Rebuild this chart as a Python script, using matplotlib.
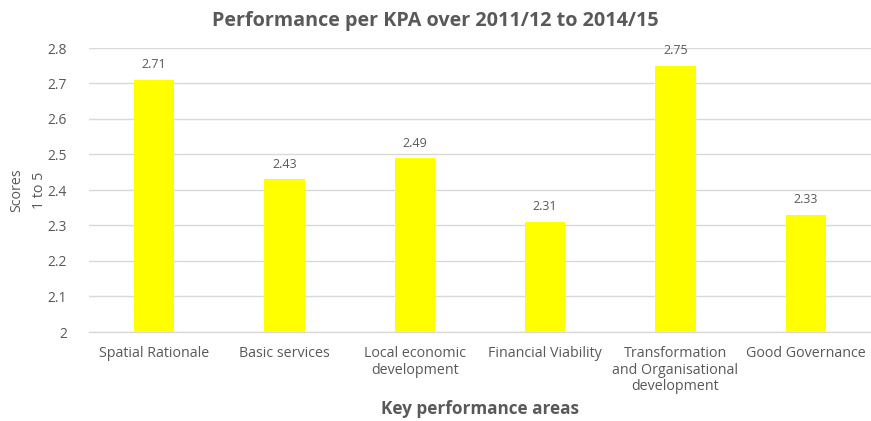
import matplotlib
matplotlib.use("Agg")
import matplotlib.pyplot as plt

categories = [
    "Spatial Rationale",
    "Basic services",
    "Local economic\ndevelopment",
    "Financial Viability",
    "Transformation\nand Organisational\ndevelopment",
    "Good Governance",
]
scores = [2.71, 2.43, 2.49, 2.31, 2.75, 2.33]
y_ticks = [2.0, 2.1, 2.2, 2.3, 2.4, 2.5, 2.6, 2.7, 2.8]
y_tick_labels = ["2", "2.1", "2.2", "2.3", "2.4", "2.5", "2.6", "2.7", "2.8"]

plt.rcParams["font.family"] = ["Open Sans", "DejaVu Sans"]
text_col = "#595959"
grid_col = "#D9D9D9"

fig = plt.figure(figsize=(8.71, 4.21), dpi=100)
ax = fig.add_axes([89 / 871, 1 - 332 / 421, 1 - 89 / 871, (332 - 48) / 421])

x = list(range(len(categories)))
bars = ax.bar(x, scores, width=0.31, color="#FFFF00", zorder=3)

ax.set_xlim(-0.5, len(categories) - 0.5)
ax.set_ylim(2.0, 2.8)
ax.set_yticks(y_ticks)
ax.set_yticklabels(y_tick_labels)
ax.set_xticks(x)
ax.set_xticklabels(categories, linespacing=1.15)

ax.yaxis.grid(True, color=grid_col, linewidth=1.0, zorder=0)
ax.set_axisbelow(True)
for side in ("top", "right", "left"):
    ax.spines[side].set_visible(False)
ax.spines["bottom"].set_color(grid_col)
ax.spines["bottom"].set_linewidth(1.0)

ax.tick_params(axis="both", length=0, colors=text_col)
ax.tick_params(axis="x", pad=10, labelsize=10.3)
ax.tick_params(axis="y", pad=16, labelsize=10)

for xi, v in zip(x, scores):
    ax.text(xi, v + 0.024, f"{v:.2f}", ha="center", va="bottom",
            fontsize=9, color=text_col)

ax.set_ylabel("Scores\n1 to 5", color=text_col, fontsize=10.3, labelpad=0,
              linespacing=1.7)
ax.set_xlabel("Key performance areas", color=text_col, fontsize=12.3,
              fontweight="bold", labelpad=4)
fig.text(0.5, 1 - 21 / 421, "Performance per KPA over 2011/12 to 2014/15",
         ha="center", va="center", fontsize=14.2, fontweight="bold",
         color=text_col)

fig.savefig("out.png", dpi=100)
